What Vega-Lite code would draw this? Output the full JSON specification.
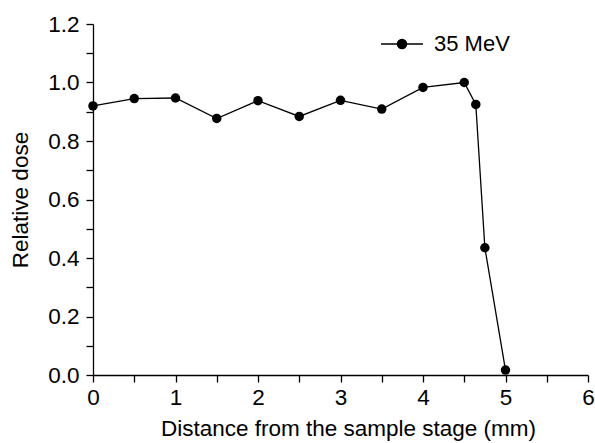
{
  "$schema": "https://vega.github.io/schema/vega-lite/v6.json",
  "width": 495,
  "height": 351,
  "autosize": {"type": "none"},
  "padding": {"left": 93, "top": 24, "right": 7, "bottom": 68},
  "background": "white",
  "config": {
    "view": {"stroke": null},
    "font": "Liberation Sans",
    "axis": {"grid": false, "domainColor": "black", "domainWidth": 1.3, "tickColor": "black", "tickWidth": 1.3, "tickSize": 7, "labelColor": "black", "titleColor": "black", "labelFontSize": 22.5, "titleFontSize": 22.5, "titleFontWeight": "normal", "labelFont": "Liberation Sans", "titleFont": "Liberation Sans"}
  },
  "data": {
    "values": [
      {"x": 0, "y": 0.92, "s": "35 MeV"},
      {"x": 0.5, "y": 0.945, "s": "35 MeV"},
      {"x": 1, "y": 0.947, "s": "35 MeV"},
      {"x": 1.5, "y": 0.877, "s": "35 MeV"},
      {"x": 2, "y": 0.938, "s": "35 MeV"},
      {"x": 2.5, "y": 0.884, "s": "35 MeV"},
      {"x": 3, "y": 0.939, "s": "35 MeV"},
      {"x": 3.5, "y": 0.909, "s": "35 MeV"},
      {"x": 4, "y": 0.983, "s": "35 MeV"},
      {"x": 4.5, "y": 1.0, "s": "35 MeV"},
      {"x": 4.64, "y": 0.925, "s": "35 MeV"},
      {"x": 4.75, "y": 0.435, "s": "35 MeV"},
      {"x": 5, "y": 0.017, "s": "35 MeV"}
    ]
  },
  "encoding": {
    "x": {"field": "x", "type": "quantitative", "scale": {"domain": [0, 6], "nice": false, "zero": false},
      "axis": {"title": "Distance from the sample stage (mm)", "titleX": 255, "values": [0,0.5,1,1.5,2,2.5,3,3.5,4,4.5,5,5.5,6], "labelExpr": "datum.value % 1 == 0 ? format(datum.value, 'd') : ''", "labelPadding": 4, "titlePadding": 9, "labelFlush": false}},
    "y": {"field": "y", "type": "quantitative", "scale": {"domain": [0, 1.2], "nice": false},
      "axis": {"title": "Relative dose", "values": [0,0.1,0.2,0.3,0.4,0.5,0.6,0.7,0.8,0.9,1.0,1.1,1.2], "labelExpr": "round(datum.value*10) % 2 == 0 ? format(datum.value, '.1f') : ''", "labelPadding": 7, "titlePadding": 15, "labelFlush": false}}
  },
  "layer": [
    {"mark": {"type": "line", "color": "black", "strokeWidth": 1.3}},
    {"mark": {"type": "point", "filled": true, "opacity": 1, "size": 90, "shape": "circle"},
      "encoding": {"color": {"field": "s", "type": "nominal", "scale": {"range": ["black"]},
        "legend": {"title": null, "orient": "none", "legendX": 287, "legendY": -2, "symbolType": "M-1,0L1,0M-0.22,0A0.22,0.22 0 1,1 0.22,0A0.22,0.22 0 1,1 -0.22,0Z", "symbolSize": 1764, "symbolStrokeWidth": 1.3, "symbolStrokeColor": "black", "symbolFillColor": "black", "labelFontSize": 22, "labelColor": "black", "labelFont": "Liberation Sans", "labelOffset": 10}}}}
  ]
}
